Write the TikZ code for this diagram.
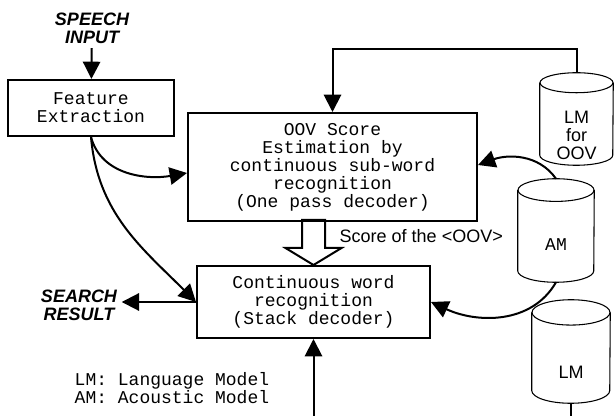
\documentclass[tikz,border=0pt]{standalone}
\usepackage{fontspec}
\setmainfont{Liberation Sans}
\setmonofont{Liberation Mono}
\usetikzlibrary{arrows.meta,calc}

\newcommand{\drum}[3]{%
  \draw[line width=0.8pt] ($(#1.north west)+(0pt,-#3)$) -- ($(#1.south west)+(0pt,#3)$)
    arc[start angle=180,end angle=360,x radius=#2,y radius=#3] -- ($(#1.north east)+(0pt,-#3)$);
  \draw[line width=0.8pt] ($(#1.north)+(0pt,-#3)$) ellipse[x radius=#2,y radius=#3];}

\begin{document}
\begin{tikzpicture}[x=0.75pt,y=-0.75pt]
\tikzstyle{every node}=[font=\fontsize{13.5}{13.5}\selectfont]
\tikzstyle{block}=[rectangle,draw,line width=1.5pt,align=center,font=\ttfamily\fontsize{13.5}{13.5}\selectfont]
\tikzstyle{db}=[rectangle,inner sep=0pt]
\tikzstyle{tag}=[align=center,font=\bfseries\itshape\fontsize{13.5}{13.5}\selectfont]
\tikzstyle{arr}=[line width=1.5pt,-{Triangle[length=13pt,width=13pt]}]
\useasboundingbox (0,0) rectangle (614,416);
\node[tag] (speech) at (92,28) {SPEECH\\INPUT};
\node[block,minimum width=124.5pt,minimum height=42pt] (fe) at (91,108) {Feature\\Extraction};
\node[block,minimum width=216.75pt,minimum height=81pt] (oov) at (332.5,167) {OOV Score\\Estimation by\\continuous sub-word\\recognition\\(One pass decoder)};
\node[block,minimum width=174.75pt,minimum height=54pt] (stack) at (313.5,302) {Continuous word\\recognition\\(Stack decoder)};
\node[tag] (search) at (79,305) {SEARCH\\RESULT};
\node[db,minimum width=54.75pt,minimum height=69pt] (lmoov) at (576.5,119) {};
\node[align=center] (lmoovtxt) at ($(lmoov.center)+(0,16)$) {LM\\for\\OOV};
\node[db,minimum width=57pt,minimum height=77.25pt] (am) at (556,230.5) {};
\node[font=\ttfamily\fontsize{13.5}{13.5}\selectfont] (amtxt) at ($(am.center)+(0,14)$) {AM};
\node[db,minimum width=58.5pt,minimum height=77.25pt] (lm) at (571,351.5) {};
\node (lmtxt) at ($(lm.center)+(0,21)$) {LM};
\drum{lmoov}{27.375pt}{7.5pt}
\drum{am}{28.5pt}{8.5pt}
\drum{lm}{29.25pt}{9.5pt}
\node[anchor=west] (score) at (335,236) {Score of the <OOV>};
\node[anchor=west,align=left,font=\ttfamily\fontsize{13.5}{13.5}\selectfont] (legend) at (70,388.5) {LM: Language Model\\AM: Acoustic Model};
\coordinate (lmend) at (lm.south |- 0,416);
\coordinate (stin) at (stack.south |- 0,416);
\draw[arr] (speech) -- (fe);
\draw[arr] (lmoov.north) -- ++(0,-24) -| (oov.north);
\draw[arr] (fe.south) to[out=-75,in=190] ($(oov.west)+(0,6)$);
\draw[arr] (fe.south) to[out=-85,in=135] (stack.west);
\draw[arr] (am.north) to[out=125,in=20] ($(oov.east)+(0,-2)$);
\draw[arr] (am.south) to[out=-120,in=-25] (stack.east);
\draw[arr] (stack.west) -- (stack.west -| search.east);
\draw[arr] (stin) -- (stack.south);
\draw[line width=1.5pt] (lm.south) -- (lmend);
\draw[line width=1.5pt] ($(stack.north)+(-11.5,-17)$) -- ++(0,-28) -- ++(23,0) -- ++(0,28) -- ++(16.5,0) -- (stack.north) -- ($(stack.north)+(-28,-17)$) -- cycle;
\end{tikzpicture}
\end{document}
